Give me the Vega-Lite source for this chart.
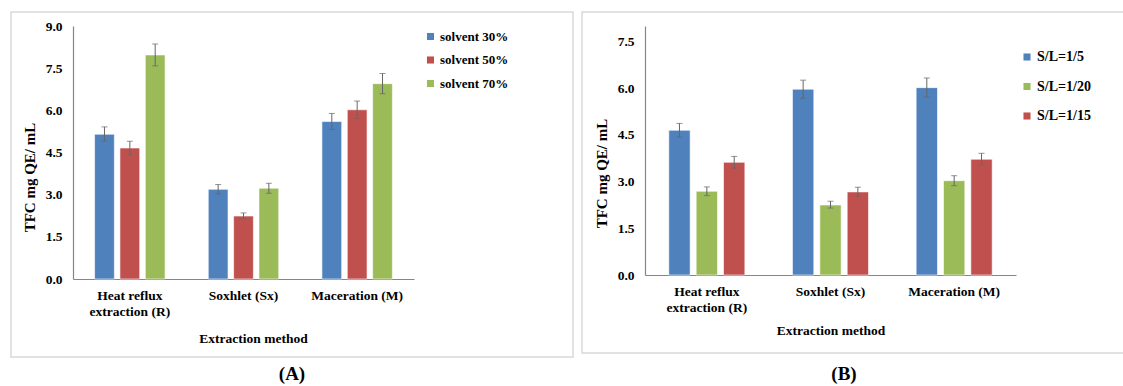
{
  "$schema": "https://vega.github.io/schema/vega-lite/v6.json",
  "padding": {"left": 10, "top": 11, "right": 0, "bottom": 0},
  "spacing": 7,
  "resolve": {"scale": {"color": "independent", "xOffset": "independent", "x": "independent", "y": "independent"}, "legend": {"color": "independent"}},
  "config": {
    "font": "Liberation Serif",
    "view": {"stroke": "#d9d9d9", "strokeWidth": 1.5},
    "axis": {"grid": false, "ticks": false, "domainColor": "#868686", "domainWidth": 1.2, "labelFont": "Liberation Serif", "labelFontWeight": "bold", "labelColor": "#000", "labelFontSize": 13.5, "titleFont": "Liberation Serif", "titleFontWeight": "bold", "titleColor": "#000", "titleFontSize": 13.5},
    "legend": {"labelFont": "Liberation Serif", "labelFontWeight": "bold", "labelColor": "#000", "symbolType": "square", "symbolSize": 50, "symbolStrokeWidth": 0, "labelOffset": 3}
  },
  "datasets": {
    "A": [
      {"method": "Heat reflux extraction (R)", "series": "solvent 30%", "value": 5.15, "lo": 4.90, "hi": 5.41},
      {"method": "Heat reflux extraction (R)", "series": "solvent 50%", "value": 4.66, "lo": 4.42, "hi": 4.90},
      {"method": "Heat reflux extraction (R)", "series": "solvent 70%", "value": 7.97, "lo": 7.58, "hi": 8.36},
      {"method": "Soxhlet (Sx)", "series": "solvent 30%", "value": 3.19, "lo": 3.03, "hi": 3.36},
      {"method": "Soxhlet (Sx)", "series": "solvent 50%", "value": 2.24, "lo": 2.14, "hi": 2.35},
      {"method": "Soxhlet (Sx)", "series": "solvent 70%", "value": 3.23, "lo": 3.05, "hi": 3.41},
      {"method": "Maceration (M)", "series": "solvent 30%", "value": 5.60, "lo": 5.32, "hi": 5.89},
      {"method": "Maceration (M)", "series": "solvent 50%", "value": 6.02, "lo": 5.70, "hi": 6.33},
      {"method": "Maceration (M)", "series": "solvent 70%", "value": 6.95, "lo": 6.59, "hi": 7.31}
    ],
    "B": [
      {"method": "Heat reflux extraction (R)", "series": "S/L=1/5", "value": 4.65, "lo": 4.43, "hi": 4.87},
      {"method": "Heat reflux extraction (R)", "series": "S/L=1/20", "value": 2.69, "lo": 2.55, "hi": 2.83},
      {"method": "Heat reflux extraction (R)", "series": "S/L=1/15", "value": 3.62, "lo": 3.43, "hi": 3.81},
      {"method": "Soxhlet (Sx)", "series": "S/L=1/5", "value": 5.97, "lo": 5.68, "hi": 6.26},
      {"method": "Soxhlet (Sx)", "series": "S/L=1/20", "value": 2.25, "lo": 2.15, "hi": 2.37},
      {"method": "Soxhlet (Sx)", "series": "S/L=1/15", "value": 2.67, "lo": 2.53, "hi": 2.82},
      {"method": "Maceration (M)", "series": "S/L=1/5", "value": 6.02, "lo": 5.72, "hi": 6.33},
      {"method": "Maceration (M)", "series": "S/L=1/20", "value": 3.03, "lo": 2.87, "hi": 3.19},
      {"method": "Maceration (M)", "series": "S/L=1/15", "value": 3.72, "lo": 3.54, "hi": 3.91}
    ]
  },
  "hconcat": [
    {
      "width": 562,
      "height": 345,
      "title": {"text": "(A)", "orient": "bottom", "font": "Liberation Serif", "fontWeight": "bold", "fontSize": 19, "offset": 8, "color": "#000"},
      "data": {"name": "A"},
      "encoding": {
        "x": {"field": "method", "type": "nominal", "sort": ["Heat reflux extraction (R)", "Soxhlet (Sx)", "Maceration (M)"],
          "scale": {"range": [62, 403], "paddingInner": 0.38, "paddingOuter": 0.19},
          "axis": {"title": "Extraction method", "offset": -78, "labelAngle": 0, "labelPadding": 9, "labelLineHeight": 16.5, "labelLimit": 300, "labelOverlap": false, "titlePadding": 13, "titleX": 242,
            "labelExpr": "datum.value == 'Heat reflux extraction (R)' ? ['Heat reflux', 'extraction (R)'] : datum.value"}},
        "xOffset": {"field": "series", "type": "nominal", "sort": ["solvent 30%", "solvent 50%", "solvent 70%"], "scale": {"paddingInner": 0.22, "paddingOuter": 0}}
      },
      "layer": [
        {
          "mark": {"type": "bar", "stroke": "#ffffff", "strokeOpacity": 0.6, "strokeWidth": 1},
          "encoding": {
            "y": {"field": "value", "type": "quantitative", "scale": {"domain": [0, 9], "range": [267, 14], "nice": false},
              "axis": {"title": "TFC mg QE/ mL", "titleFontSize": 15, "offset": -62, "values": [0, 1.5, 3, 4.5, 6, 7.5, 9], "format": ".1f", "labelPadding": 11, "titlePadding": 8, "titleY": 165}},
            "color": {"field": "series", "type": "nominal", "scale": {"domain": ["solvent 30%", "solvent 50%", "solvent 70%"], "range": ["#4f81bd", "#c0504d", "#9bbb59"]},
              "legend": {"title": null, "orient": "none", "legendX": 413, "legendY": 18, "labelFontSize": 13, "rowPadding": 9.5}}
          }
        },
        {
          "mark": {"type": "rule", "color": "#666666", "strokeWidth": 1},
          "encoding": {"y": {"field": "lo", "type": "quantitative"}, "y2": {"field": "hi"}}
        },
        {
          "mark": {"type": "tick", "color": "#666666", "thickness": 1, "size": 6},
          "encoding": {"y": {"field": "lo", "type": "quantitative"}}
        },
        {
          "mark": {"type": "tick", "color": "#666666", "thickness": 1, "size": 6},
          "encoding": {"y": {"field": "hi", "type": "quantitative"}}
        }
      ]
    },
    {
      "width": 546,
      "height": 341,
      "title": {"text": "(B)", "orient": "bottom", "font": "Liberation Serif", "fontWeight": "bold", "fontSize": 19, "offset": 12, "color": "#000", "dx": -11},
      "data": {"name": "B"},
      "encoding": {
        "x": {"field": "method", "type": "nominal", "sort": ["Heat reflux extraction (R)", "Soxhlet (Sx)", "Maceration (M)"],
          "scale": {"range": [63, 434], "paddingInner": 0.385, "paddingOuter": 0.1925},
          "axis": {"title": "Extraction method", "offset": -78, "labelAngle": 0, "labelPadding": 9, "labelLineHeight": 16.5, "labelLimit": 300, "labelOverlap": false, "titlePadding": 9,
            "labelExpr": "datum.value == 'Heat reflux extraction (R)' ? ['Heat reflux', 'extraction (R)'] : datum.value"}},
        "xOffset": {"field": "series", "type": "nominal", "sort": ["S/L=1/5", "S/L=1/20", "S/L=1/15"], "scale": {"paddingInner": 0.22, "paddingOuter": 0}}
      },
      "layer": [
        {
          "mark": {"type": "bar", "stroke": "#ffffff", "strokeOpacity": 0.6, "strokeWidth": 1},
          "encoding": {
            "y": {"field": "value", "type": "quantitative", "scale": {"domain": [0, 8], "range": [263, 14], "nice": false},
              "axis": {"title": "TFC mg QE/ mL", "titleFontSize": 15, "offset": -63, "values": [0, 1.5, 3, 4.5, 6, 7.5], "format": ".1f", "labelPadding": 11, "titlePadding": 8, "titleY": 161}},
            "color": {"field": "series", "type": "nominal", "scale": {"domain": ["S/L=1/5", "S/L=1/20", "S/L=1/15"], "range": ["#4f81bd", "#9bbb59", "#c0504d"]},
              "legend": {"title": null, "orient": "none", "legendX": 438, "legendY": 38, "labelFontSize": 14, "rowPadding": 15.5}}
          }
        },
        {
          "mark": {"type": "rule", "color": "#666666", "strokeWidth": 1},
          "encoding": {"y": {"field": "lo", "type": "quantitative"}, "y2": {"field": "hi"}}
        },
        {
          "mark": {"type": "tick", "color": "#666666", "thickness": 1, "size": 6},
          "encoding": {"y": {"field": "lo", "type": "quantitative"}}
        },
        {
          "mark": {"type": "tick", "color": "#666666", "thickness": 1, "size": 6},
          "encoding": {"y": {"field": "hi", "type": "quantitative"}}
        }
      ]
    }
  ]
}
